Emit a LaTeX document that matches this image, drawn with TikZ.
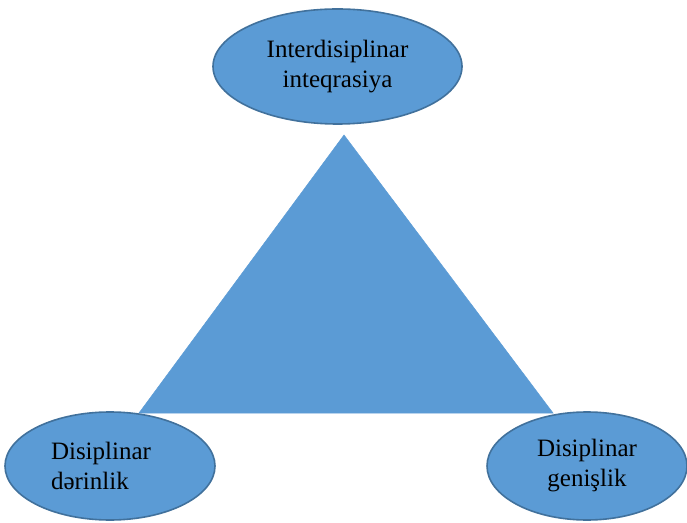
\documentclass[tikz,border=0pt]{standalone}
\usepackage{fontspec}
\setmainfont{Liberation Serif}
\usepackage{tikz}
\usetikzlibrary{shapes.geometric, positioning}
\definecolor{blobfill}{HTML}{5B9BD5}
\definecolor{blobdraw}{HTML}{41719C}
\tikzset{%
	every blob/.style={
		ellipse,
		draw=blobdraw,
		fill=blobfill,
		line width=1.6pt,
		inner sep=0pt,
		font=\fontsize{25}{30}\selectfont
	},
}

\begin{document}
\begin{tikzpicture}[
			x=1pt, y=1pt,
			blob/.style={every blob},
			tri/.style={fill=blobfill, draw=blobfill, line width=0.5pt}
			]
			\useasboundingbox (0,0) rectangle (687,522);
			
			% Triangle behind the ellipses
			\coordinate (T) at (344,387);
			\coordinate (L) at (139,109);
			\coordinate (R) at (553,109);
			\fill[tri] (T) -- (L) -- (R) -- cycle;
			
			% Nodes of the triangle
			\node[blob, minimum width=249, minimum height=115, align=center] (I) at (337.5,455.5) {Interdisiplinar\\inteqrasiya};
			\node[blob, minimum width=210, minimum height=108, align=left] (D) at (110,56) {Disiplinar\hspace*{18pt}\\dərinlik};
			\node[blob, minimum width=200, minimum height=108, align=center] (G) at (587,56) {Disiplinar\\genişlik};
			
		\end{tikzpicture}
\end{document}
